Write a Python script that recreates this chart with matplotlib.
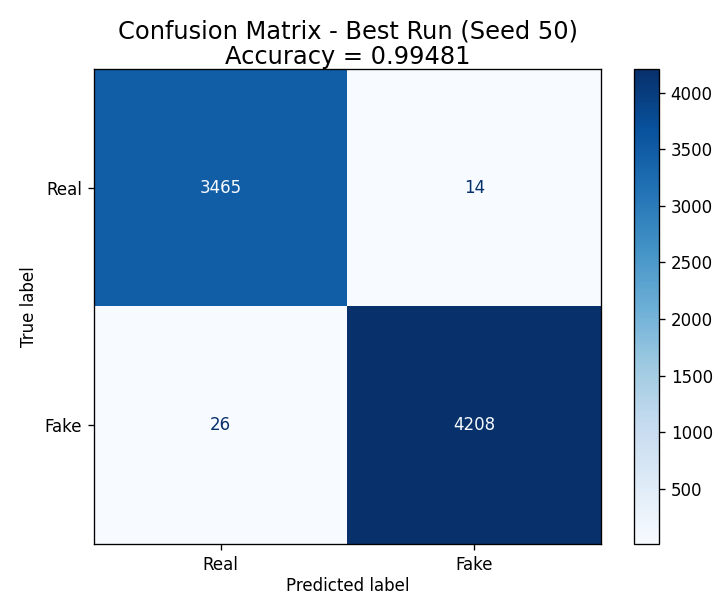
import numpy as np
import matplotlib
matplotlib.use("Agg")
import matplotlib.pyplot as plt

# Confusion matrix values
class_names = ["Real", "Fake"]
cm = np.array([[3465, 14],
               [26, 4208]])
accuracy = 0.99481
seed = 50
cbar_ticks = [500, 1000, 1500, 2000, 2500, 3000, 3500, 4000]

W, H = 718, 595
dpi = 120
fig = plt.figure(figsize=(W / dpi, H / dpi), dpi=dpi)

ax = fig.add_axes([94 / W, 1 - 544 / H, (601 - 94) / W, (544 - 69) / H])
cax = fig.add_axes([634 / W, 1 - 544 / H, (659 - 634) / W, (544 - 69) / H])

cmap = plt.get_cmap("Blues")
im = ax.imshow(cm, cmap=cmap, interpolation="nearest", aspect="auto")

cmin, cmax = cmap(0.0), cmap(1.0)
thresh = (cm.max() + cm.min()) / 2.0
for i in range(cm.shape[0]):
    for j in range(cm.shape[1]):
        color = cmin if cm[i, j] >= thresh else cmax
        ax.text(j, i, f"{cm[i, j]}", ha="center", va="center", color=color)

ax.set_xticks(range(len(class_names)))
ax.set_xticklabels(class_names)
ax.set_yticks(range(len(class_names)))
ax.set_yticklabels(class_names)
ax.set_xlabel("Predicted label", labelpad=2)
ax.set_ylabel("True label")
ax.set_title(f"Confusion Matrix - Best Run (Seed {seed})\nAccuracy = {accuracy:.5f}",
             fontsize=14.5, pad=3, linespacing=1.1)

cb = fig.colorbar(im, cax=cax)
cb.set_ticks(cbar_ticks)

fig.savefig("out.png", dpi=dpi)
